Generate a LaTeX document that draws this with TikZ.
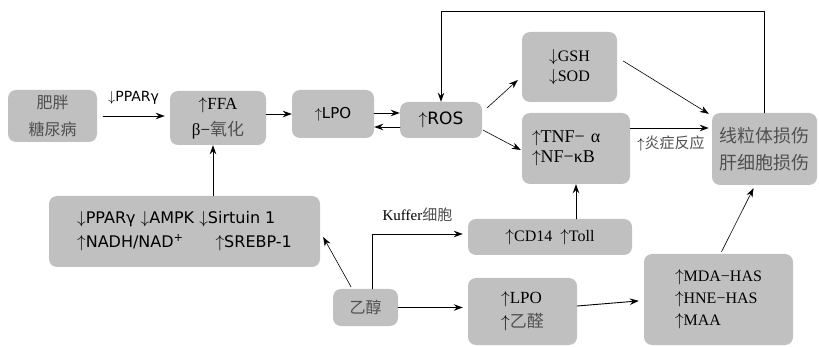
\documentclass[tikz,border=0pt]{standalone}
\usepackage{fontspec}
\setmainfont{Liberation Serif}
\newfontfamily\sansfont{DejaVu Sans}
\newfontfamily\cjkfont{Noto Sans CJK SC}
\usetikzlibrary{arrows.meta,calc}

\definecolor{boxgray}{HTML}{C0C0C0}
\definecolor{zhgray}{HTML}{505050}
\newcommand{\zh}[1]{{\cjkfont\color{zhgray}#1}}
\newcommand{\fs}[2]{\fontsize{#1}{#2}\selectfont}
\newcommand{\up}{$\uparrow$}
\newcommand{\dn}{$\downarrow$}

\begin{document}
\begin{tikzpicture}[
    x=1pt, y=-1pt,
    line cap=round,
    line join=round,
    box/.style={fill=boxgray, rounded corners=8pt, inner sep=0pt, align=center},
    flow/.style={-{Stealth[length=9pt, width=6.5pt]}, line width=0.9pt},
    thinflow/.style={-{Stealth[length=9pt, width=6.5pt]}, line width=0.6pt}
  ]

\useasboundingbox (0,0) rectangle (819,347);

% ============================================================
% UPPER ROW: lipid load -> LPO -> ROS
% ============================================================
\node[box, minimum width=89pt, minimum height=52pt, font=\fs{16}{27}]
  (obese) at (52.5,116) {\zh{肥胖}\\\zh{糖尿病}};
\node[box, minimum width=96pt, minimum height=54pt, font=\fs{17}{26}]
  (ffa) at (218,118) {\up FFA\\β−\zh{氧化}};
\node[box, minimum width=82pt, minimum height=48pt, font=\sansfont\fs{15}{16}]
  (lpo) at (333,114) {\up LPO};
\node[box, minimum width=82pt, minimum height=36pt, font=\sansfont\fs{17}{20}]
  (ros) at (441,120) {\up ROS};

% ============================================================
% RIGHT BLOCK: antioxidants, cytokines, damage
% ============================================================
\node[box, minimum width=95pt, minimum height=70pt, font=\fs{16}{20}]
  (gsh) at (569.5,67) {\dn GSH\\\dn SOD};
\node[box, minimum width=108pt, minimum height=71pt, font=\fs{18}{20},
      text width=88pt, align=left]
  (tnf) at (576,148.5) {\up TNF− α\\\up NF−κB};
\node[box, minimum width=105pt, minimum height=72pt, font=\fs{18}{27}]
  (mito) at (764.5,149) {\zh{线粒体损伤}\\\zh{肝细胞损伤}};

% ============================================================
% LOWER ROW: ethanol branch
% ============================================================
\node[box, minimum width=271pt, minimum height=71pt, font=\sansfont\fs{16}{24}, align=left]
  (ppar) at (184.5,231.5)
  {\dn PPARγ \dn AMPK \dn Sirtuin 1\\\up NADH/NAD\textsuperscript{+}\hspace{2em}\up SREBP-1};
\node[box, minimum width=65pt, minimum height=37pt, font=\fs{16}{20}]
  (eth) at (365.5,307.5) {\zh{乙醇}};
\node[box, minimum width=164pt, minimum height=36pt, font=\fs{16}{18}]
  (cd14) at (550,237) {\up CD14\hspace{0.5em}\up Toll};
\node[box, minimum width=109pt, minimum height=67pt, font=\fs{17}{24}, align=left]
  (lpo2) at (522.5,311.5) {\up LPO\\\up\zh{乙醛}};
\node[box, minimum width=149pt, minimum height=91pt, font=\fs{16}{22}, align=left]
  (mda) at (718.5,299.5) {\up MDA−HAS\\\up HNE−HAS\\\up MAA};

% helper points
\coordinate (rtop) at ($(ros.west)+(0,-7)$);
\coordinate (rbot) at ($(ros.west)+(0,7)$);
\coordinate (fbtop) at (0,11);
\coordinate (tout) at ($(tnf.east)+(0,-20.5)$);
\coordinate (kin) at ($(cd14.west)+(-5,-3)$);
\coordinate (pup) at ($(ppar.north)+(28.5,0)$);

% connectors
\draw[flow, shorten <=6pt, shorten >=5pt] (obese.east) -- (obese.east -| ffa.west)
  node[midway, above=8pt, font=\sansfont\fs{14}{15}] {\dn PPARγ};
\draw[flow] (lpo.west -| ffa.east) -- (lpo.west);
\draw[flow] (lpo.east |- rtop) -- (rtop);
\draw[flow] (rbot) -- (lpo.east |- rbot);

\draw[thinflow] ($(ros.north east)+(5,6)$) -- ($(gsh.west)+(-4,13)$);
\draw[thinflow] ($(ros.south east)+(1,-8)$) -- ($(tnf.west)+(-1,1.5)$);
\draw[thinflow] ($(gsh.east)+(6,-6)$) -- ($(mito.north west)+(-3,1)$);
\draw[flow, shorten >=3pt] (tout) -- (tout -| mito.west)
  node[midway, below=4pt, font=\fs{15}{18}] {\up\zh{炎症反应}};

% feedback loop from damage back to ROS
\draw[flow] (mito.north) -- (mito.north |- fbtop) -| (ros.north);

\draw[flow] (cd14.north -| tnf.south) -- (tnf.south);
\draw[thinflow] ($(mda.north)+(3,-2)$) -- ($(mito.south)+(-11,3)$);

\draw[flow, shorten >=5pt] (eth.east) -- (eth.east -| lpo2.west);
\draw[flow] ($(eth.north)+(6.5,0)$) |- (kin)
  node[pos=0.75, above=8pt, font=\fs{15}{18}] {Kuffer\zh{细胞}};
\draw[thinflow] ($(eth.north)+(-14.5,-2)$) -- ($(ppar.east)+(3,5.5)$);
\draw[flow, shorten >=5pt] ($(lpo2.east)+(0,-5.5)$) -- ($(mda.west)+(0,1)$);
\draw[flow] (pup) -- (pup |- ffa.south);

\end{tikzpicture}
\end{document}
